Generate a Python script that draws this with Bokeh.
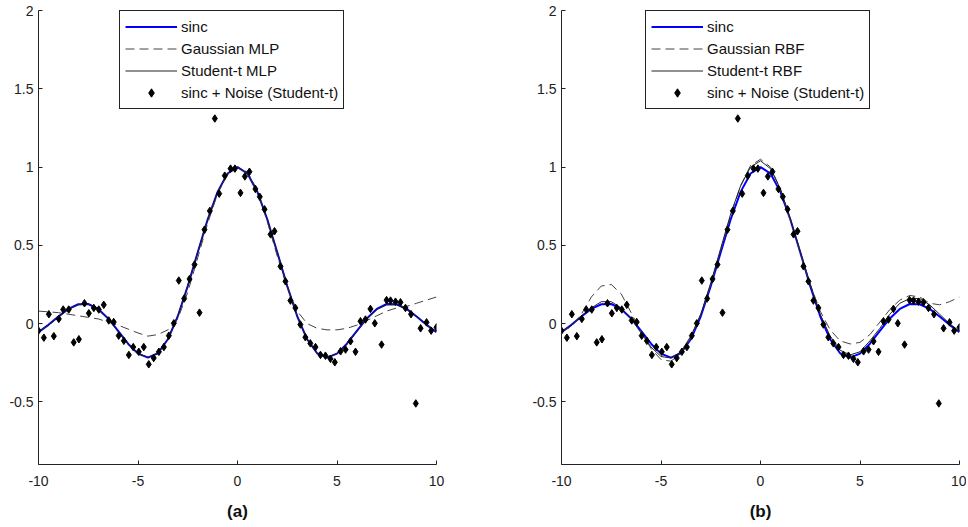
from bokeh.plotting import figure
from bokeh.layouts import row
from bokeh.models import Range1d, FixedTicker
from bokeh.embed import file_html
from bokeh.resources import INLINE

# ---- data ----
x_curve = [-10.0, -9.5, -9.0, -8.5, -8.0, -7.5, -7.0, -6.5, -6.0, -5.5, -5.0,
           -4.5, -4.0, -3.5, -3.0, -2.5, -2.0, -1.5, -1.0, -0.5, 0.0,
           0.5, 1.0, 1.5, 2.0, 2.5, 3.0, 3.5, 4.0, 4.5, 5.0,
           5.5, 6.0, 6.5, 7.0, 7.5, 8.0, 8.5, 9.0, 9.5, 10.0]

sinc_y = [-0.0544, -0.0079, 0.0458, 0.0939, 0.1237, 0.1251, 0.0939, 0.0331, -0.0466, -0.1283, -0.1918,
          -0.2172, -0.1892, -0.1002, 0.0470, 0.2394, 0.4546, 0.6650, 0.8415, 0.9589, 1.0,
          0.9589, 0.8415, 0.6650, 0.4546, 0.2394, 0.0470, -0.1002, -0.1892, -0.2172, -0.1918,
          -0.1283, -0.0466, 0.0331, 0.0939, 0.1251, 0.1237, 0.0939, 0.0458, -0.0079, -0.0544]

gauss_mlp = [0.08, 0.075, 0.07, 0.06, 0.05, 0.04, 0.03, 0.01, -0.01, -0.035, -0.06,
             -0.08, -0.07, -0.04, 0.03, 0.20, 0.42, 0.64, 0.83, 0.95, 0.995,
             0.97, 0.85, 0.65, 0.43, 0.23, 0.08, 0.0, -0.03, -0.04, -0.04,
             -0.03, -0.01, 0.02, 0.05, 0.08, 0.10, 0.11, 0.13, 0.15, 0.17]

student_mlp = [-0.05, -0.01, 0.04, 0.09, 0.12, 0.125, 0.09, 0.03, -0.05, -0.13, -0.19,
               -0.215, -0.19, -0.10, 0.05, 0.24, 0.455, 0.665, 0.84, 0.96, 1.0,
               0.96, 0.84, 0.665, 0.455, 0.24, 0.05, -0.10, -0.19, -0.215, -0.19,
               -0.13, -0.05, 0.03, 0.09, 0.12, 0.12, 0.09, 0.045, -0.01, -0.05]

gauss_rbf = [-0.05, -0.02, 0.06, 0.17, 0.24, 0.25, 0.19, 0.07, -0.05, -0.16, -0.23,
             -0.24, -0.19, -0.09, 0.06, 0.25, 0.47, 0.69, 0.88, 1.01, 1.05,
             1.0, 0.86, 0.66, 0.45, 0.25, 0.08, -0.04, -0.11, -0.13, -0.12,
             -0.07, 0.01, 0.09, 0.15, 0.18, 0.17, 0.13, 0.12, 0.14, 0.17]

student_rbf = [-0.05, -0.01, 0.05, 0.10, 0.14, 0.14, 0.10, 0.03, -0.06, -0.15, -0.21,
               -0.22, -0.18, -0.08, 0.06, 0.26, 0.48, 0.70, 0.88, 1.0, 1.04,
               0.99, 0.86, 0.67, 0.46, 0.25, 0.06, -0.08, -0.17, -0.20, -0.18,
               -0.11, -0.03, 0.06, 0.13, 0.16, 0.16, 0.12, 0.06, 0.0, -0.05]

noise_x = [-10.0, -9.73, -9.48, -9.23, -8.98, -8.76, -8.48, -8.23, -7.97, -7.69,
           -7.47, -7.22, -6.97, -6.72, -6.47, -6.22, -5.97, -5.71, -5.46, -5.24,
           -4.96, -4.71, -4.46, -4.21, -3.95, -3.70, -3.45, -3.20, -2.95, -2.68,
           -2.41, -2.16, -1.91, -1.66, -1.39, -1.14, -0.92, -0.64, -0.35, -0.13,
           0.15, 0.37, 0.60, 0.90, 1.12, 1.36, 1.66, 1.86, 2.16, 2.41,
           2.66, 2.91, 3.16, 3.41, 3.66, 3.92, 4.17, 4.42, 4.67, 4.89,
           5.18, 5.43, 5.68, 5.93, 6.18, 6.43, 6.68, 6.90, 7.24, 7.49,
           7.69, 7.94, 8.19, 8.44, 8.72, 8.96, 9.20, 9.50, 9.73, 10.0]
noise_y = [-0.045, -0.09, 0.06, -0.08, 0.03, 0.09, 0.09, -0.12, -0.10, 0.13,
           0.066, 0.10, 0.09, 0.12, 0.02, 0.01, -0.077, -0.11, -0.20, -0.15,
           -0.18, -0.15, -0.26, -0.22, -0.18, -0.15, -0.077, 0.002, 0.275, 0.16,
           0.285, 0.377, 0.07, 0.60, 0.72, 1.31, 0.83, 0.945, 0.99, 0.99,
           0.835, 0.94, 0.97, 0.86, 0.81, 0.73, 0.57, 0.59, 0.366, 0.27,
           0.147, 0.10, -0.006, -0.087, -0.126, -0.15, -0.20, -0.205, -0.225, -0.247,
           -0.177, -0.166, -0.113, -0.18, 0.015, 0.026, 0.094, 0.002, -0.134, 0.15,
           0.147, 0.14, 0.136, 0.10, 0.06, -0.51, -0.03, 0.008, -0.045, -0.024]

x_ticks = [-10, -5, 0, 5, 10]
x_tick_labels = ["-10", "-5", "0", "5", "10"]
y_ticks = [-0.5, 0, 0.5, 1, 1.5, 2]
y_tick_labels = ["-0.5", "0", "0.5", "1", "1.5", "2"]

FONT = "Liberation Sans"
FIG_H = 525


def make_panel(gauss, student, gauss_label, student_label, panel_label,
               width, border_left, border_right, legend_x):
    p = figure(width=width, height=FIG_H,
               x_range=Range1d(-10, 10), y_range=Range1d(-0.9, 2),
               output_backend="svg", toolbar_location=None,
               min_border_left=border_left, min_border_right=border_right,
               min_border_top=10, min_border_bottom=FIG_H - 464)
    p.grid.visible = False
    p.outline_line_color = None

    p.line(x_curve, sinc_y, color="#0000ff", line_width=2, legend_label="sinc")
    p.line(x_curve, gauss, color="#444444", line_width=1, line_dash="9 5",
           legend_label=gauss_label)
    p.line(x_curve, student, color="#222222", line_width=1, legend_label=student_label)
    p.scatter(noise_x, noise_y, marker="diamond", size=7.5,
              color="black", legend_label="sinc + Noise (Student-t)")

    for ax, ticks, labels in ((p.xaxis, x_ticks, x_tick_labels),
                              (p.yaxis, y_ticks, y_tick_labels)):
        ax.ticker = FixedTicker(ticks=ticks)
        ax.major_label_overrides = {t: l for t, l in zip(ticks, labels)}
        ax.axis_line_color = "#222222"
        ax.major_tick_line_color = "#222222"
        ax.major_tick_in = 4
        ax.major_tick_out = 0
        ax.minor_tick_line_color = None
        ax.major_label_text_font = FONT
        ax.major_label_text_font_size = "14px"
        ax.major_label_text_color = "#222222"
    p.xaxis.major_label_standoff = 11
    p.yaxis.major_label_standoff = 5
    p.xaxis.axis_label = panel_label
    p.xaxis.axis_label_text_font = FONT
    p.xaxis.axis_label_text_font_size = "17px"
    p.xaxis.axis_label_text_font_style = "bold"
    p.xaxis.axis_label_text_color = "#111111"
    p.xaxis.axis_label_standoff = 13

    lg = p.legend[0]
    lg.location = (legend_x, 355)
    lg.margin = 0
    lg.padding = 5
    lg.spacing = 1
    lg.label_height = 21
    lg.glyph_height = 21
    lg.glyph_width = 52
    lg.label_standoff = 4
    lg.label_text_font = FONT
    lg.label_text_font_size = "15px"
    lg.label_text_color = "#111111"
    lg.border_line_color = "#222222"
    lg.border_line_width = 1.5
    lg.border_line_alpha = 1.0
    lg.background_fill_color = "white"
    lg.background_fill_alpha = 1.0
    return p


p1 = make_panel(gauss_mlp, student_mlp, "Gaussian MLP", "Student-t MLP", "(a)",
                width=526, border_left=38, border_right=90, legend_x=81)
p2 = make_panel(gauss_rbf, student_rbf, "Gaussian RBF", "Student-t RBF", "(b)",
                width=440, border_left=35, border_right=7, legend_x=84)

layout = row(p1, p2)
open("out.html", "w").write(file_html(layout, INLINE))
